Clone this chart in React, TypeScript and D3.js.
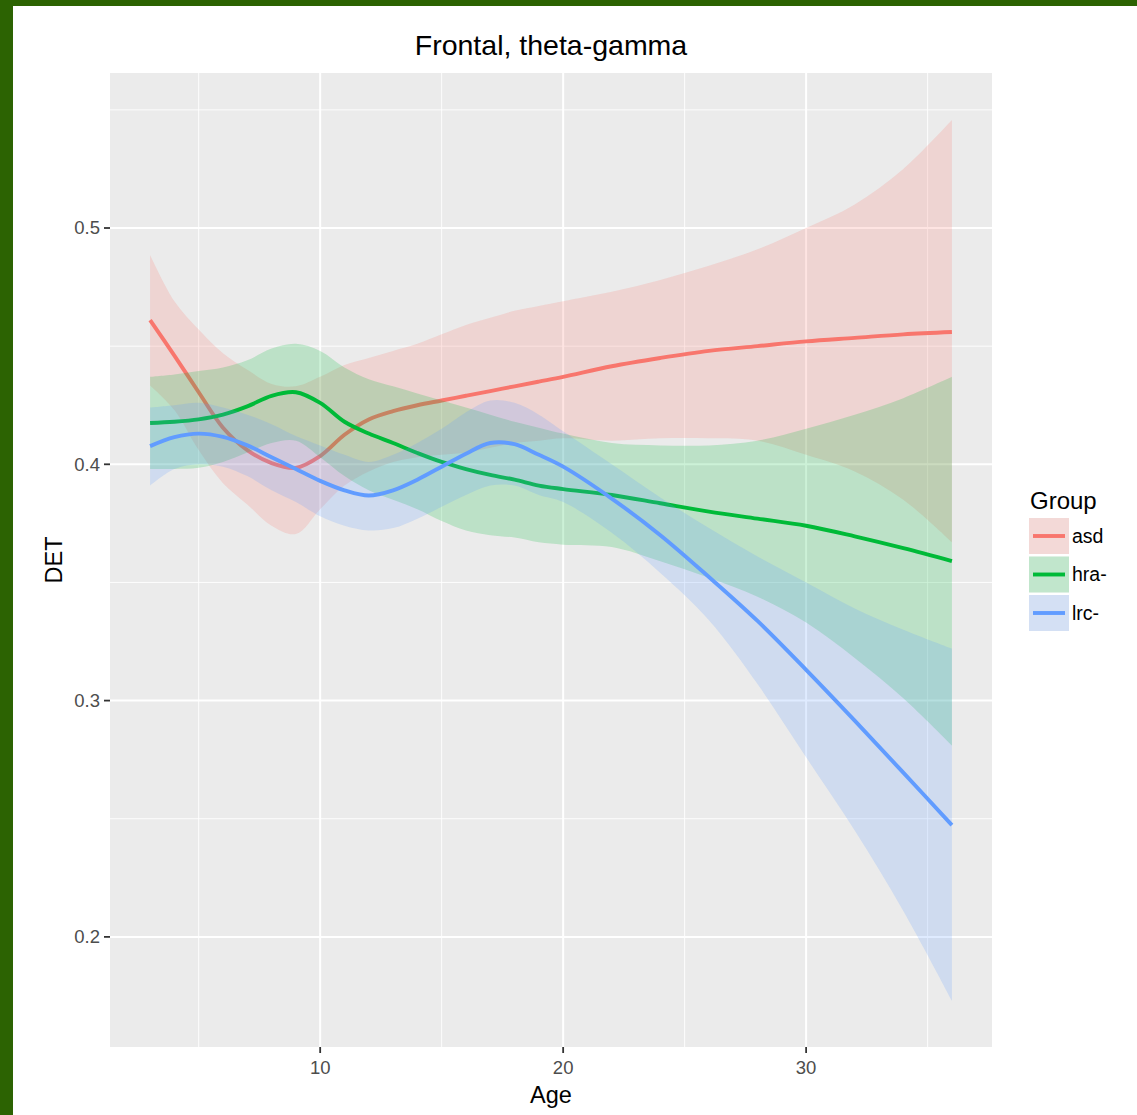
import React from "react";
import * as d3 from "d3";

const ages = [3, 4, 5, 6, 7, 8, 9, 10, 11, 12, 13, 14, 15, 16, 17, 18, 19, 20, 22, 24, 26, 28, 30, 32, 34, 36];

const asdFit = [0.461, 0.446, 0.4305, 0.4155, 0.406, 0.4005, 0.3985, 0.4035, 0.4125, 0.419, 0.4225, 0.425, 0.427, 0.429, 0.431, 0.433, 0.435, 0.437, 0.4415, 0.445, 0.448, 0.450, 0.452, 0.4535, 0.455, 0.456];
const asdHi = [0.4886, 0.469, 0.457, 0.447, 0.440, 0.434, 0.433, 0.437, 0.442, 0.445, 0.448, 0.451, 0.455, 0.459, 0.462, 0.465, 0.467, 0.469, 0.473, 0.478, 0.484, 0.491, 0.500, 0.510, 0.525, 0.5457];
const asdLo = [0.4334, 0.423, 0.406, 0.392, 0.383, 0.374, 0.3705, 0.381, 0.391, 0.397, 0.401, 0.403, 0.404, 0.405, 0.407, 0.409, 0.410, 0.411, 0.410, 0.411, 0.411, 0.410, 0.404, 0.397, 0.385, 0.367];

const hraFit = [0.4175, 0.418, 0.419, 0.421, 0.4245, 0.429, 0.4305, 0.426, 0.418, 0.413, 0.409, 0.4048, 0.401, 0.398, 0.3955, 0.3935, 0.391, 0.3895, 0.387, 0.3835, 0.380, 0.377, 0.374, 0.3695, 0.3645, 0.359];
const hraHi = [0.437, 0.438, 0.4395, 0.441, 0.444, 0.449, 0.451, 0.448, 0.441, 0.436, 0.433, 0.430, 0.427, 0.424, 0.421, 0.418, 0.4155, 0.413, 0.409, 0.408, 0.408, 0.410, 0.415, 0.421, 0.428, 0.437];
const hraLo = [0.398, 0.398, 0.3985, 0.401, 0.405, 0.409, 0.410, 0.403, 0.395, 0.389, 0.385, 0.381, 0.376, 0.372, 0.370, 0.369, 0.367, 0.366, 0.365, 0.359, 0.352, 0.344, 0.333, 0.318, 0.301, 0.281];

const lrcFit = [0.4077, 0.4115, 0.413, 0.4116, 0.408, 0.403, 0.398, 0.393, 0.389, 0.3868, 0.389, 0.3935, 0.399, 0.4045, 0.409, 0.4085, 0.404, 0.399, 0.3855, 0.370, 0.3523, 0.3337, 0.313, 0.2915, 0.2695, 0.2473];
const lrcHi = [0.424, 0.425, 0.426, 0.424, 0.421, 0.417, 0.412, 0.408, 0.404, 0.401, 0.404, 0.409, 0.415, 0.422, 0.427, 0.426, 0.421, 0.414, 0.400, 0.386, 0.373, 0.361, 0.350, 0.339, 0.330, 0.322];
const lrcLo = [0.391, 0.398, 0.400, 0.399, 0.395, 0.389, 0.384, 0.378, 0.374, 0.372, 0.373, 0.377, 0.382, 0.387, 0.391, 0.391, 0.387, 0.384, 0.371, 0.354, 0.334, 0.307, 0.276, 0.245, 0.211, 0.173];

const groups = ["asd", "hra-", "lrc-"];
const groupColors = ["#F8766D", "#00BA38", "#619CFF"];

const xTicks = [10, 20, 30];
const xMinor = [5, 15, 25, 35];
const yTicks = [0.2, 0.3, 0.4, 0.5];
const yMinor = [0.25, 0.35, 0.45, 0.55];

const W = 1137;
const H = 1115;
const panel = { left: 110, right: 992, top: 73, bottom: 1047 };
const font = "'Liberation Sans', Arial, Helvetica, sans-serif";

export default function App() {
  const x = d3.scaleLinear().domain([1.35, 37.65]).range([panel.left, panel.right]);
  const y = d3.scaleLinear().domain([0.1534, 0.5656]).range([panel.bottom, panel.top]);

  const series = [
    { fit: asdFit, hi: asdHi, lo: asdLo },
    { fit: hraFit, hi: hraHi, lo: hraLo },
    { fit: lrcFit, hi: lrcHi, lo: lrcLo },
  ];

  const curve = d3.curveCatmullRom.alpha(0.5);
  const line = d3
    .line<number>()
    .x((_, i) => x(ages[i]))
    .y((d) => y(d))
    .curve(curve);

  const area = (hi: number[], lo: number[]) =>
    d3
      .area<number>()
      .x((_, i) => x(ages[i]))
      .y0((_, i) => y(lo[i]))
      .y1((_, i) => y(hi[i]))
      .curve(curve)(ages);

  const cx = (panel.left + panel.right) / 2;
  const cy = (panel.top + panel.bottom) / 2;

  return (
    <svg
      width={W}
      height={H}
      style={{ position: "absolute", left: 0, top: 0, display: "block" }}
      fontFamily={font}
    >
      <rect x={0} y={0} width={W} height={H} fill="#2c6302" />
      <rect x={13} y={6} width={W - 13} height={H - 6} fill="#ffffff" />

      <rect
        x={panel.left}
        y={panel.top}
        width={panel.right - panel.left}
        height={panel.bottom - panel.top}
        fill="#EBEBEB"
      />
      {yMinor.map((t) => (
        <line key={"ym" + t} x1={panel.left} x2={panel.right} y1={y(t)} y2={y(t)} stroke="#fff" strokeWidth={0.9} />
      ))}
      {xMinor.map((t) => (
        <line key={"xm" + t} x1={x(t)} x2={x(t)} y1={panel.top} y2={panel.bottom} stroke="#fff" strokeWidth={0.9} />
      ))}
      {yTicks.map((t) => (
        <line key={"yM" + t} x1={panel.left} x2={panel.right} y1={y(t)} y2={y(t)} stroke="#fff" strokeWidth={2} />
      ))}
      {xTicks.map((t) => (
        <line key={"xM" + t} x1={x(t)} x2={x(t)} y1={panel.top} y2={panel.bottom} stroke="#fff" strokeWidth={2} />
      ))}

      {series.map((s, gi) => (
        <g key={groups[gi]}>
          <path d={area(s.hi, s.lo) || ""} fill={groupColors[gi]} fillOpacity={0.2} />
          <path d={line(s.fit) || ""} fill="none" stroke={groupColors[gi]} strokeWidth={3.9} />
        </g>
      ))}

      {yTicks.map((t) => (
        <g key={"yt" + t}>
          <line x1={panel.left - 6} x2={panel.left} y1={y(t)} y2={y(t)} stroke="#333" strokeWidth={1.8} />
          <text x={panel.left - 10} y={y(t)} dy="0.35em" textAnchor="end" fontSize={18.5} fill="#4D4D4D">
            {t.toFixed(1)}
          </text>
        </g>
      ))}
      {xTicks.map((t) => (
        <g key={"xt" + t}>
          <line x1={x(t)} x2={x(t)} y1={panel.bottom} y2={panel.bottom + 6} stroke="#333" strokeWidth={1.8} />
          <text x={x(t)} y={panel.bottom + 27} textAnchor="middle" fontSize={18.5} fill="#4D4D4D">
            {t}
          </text>
        </g>
      ))}

      <text x={cx} y={1103} textAnchor="middle" fontSize={23.5} fill="#000">
        Age
      </text>
      <text
        transform={`translate(62, ${cy}) rotate(-90)`}
        textAnchor="middle"
        fontSize={23.5}
        fill="#000"
      >
        DET
      </text>
      <text x={cx} y={55} textAnchor="middle" fontSize={28.5} fill="#000">
        Frontal, theta-gamma
      </text>

      <text x={1030} y={509} fontSize={24} fill="#000">
        Group
      </text>
      {groups.map((g, i) => {
        const ky = 518 + i * 38.5;
        return (
          <g key={"lg" + g}>
            <rect x={1029} y={ky} width={40} height={36} fill="#F2F2F2" />
            <rect x={1029} y={ky} width={40} height={36} fill={groupColors[i]} fillOpacity={0.2} />
            <line x1={1033} x2={1065} y1={ky + 18} y2={ky + 18} stroke={groupColors[i]} strokeWidth={3.9} />
            <text x={1072} y={ky + 18} dy="0.35em" fontSize={19.5} fill="#000">
              {g}
            </text>
          </g>
        );
      })}
    </svg>
  );
}
